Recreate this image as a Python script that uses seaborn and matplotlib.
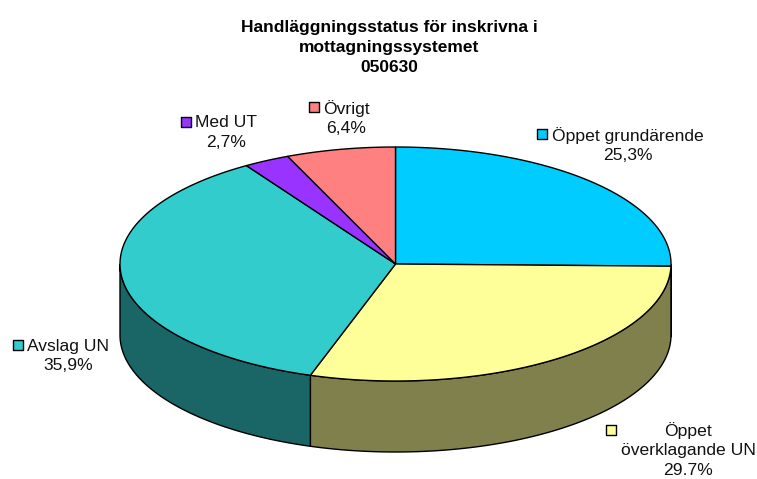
import numpy as np
import matplotlib.pyplot as plt
import seaborn as sns

labels = ["Öppet grundärende", "Öppet\növerklagande UN", "Avslag UN", "Med UT", "Övrigt"]
values = [25.3, 29.7, 35.9, 2.7, 6.4]
pct_text = ["25,3%", "29.7%", "35,9%", "2,7%", "6,4%"]
colors = ["#00CCFF", "#FFFF99", "#33CCCC", "#9933FF", "#FF8080"]
side_colors = ["#006680", "#80804D", "#1A6666", "#4D1A80", "#804040"]

sns.set_theme(style="white")
plt.rcParams['font.family'] = ['Liberation Sans', 'DejaVu Sans']

fig, ax = plt.subplots(figsize=(7.57, 4.79), dpi=100)
ax.set_position([0, 0, 1, 1])
ax.set_xlim(0, 757)
ax.set_ylim(479, 0)
ax.axis("off")

cx, cy, rx, ry, depth = 395.5, 264, 275.5, 117, 71

def rim(a0, a1):
    t = np.radians(np.linspace(a0, a1, 200))
    return cx + rx * np.sin(t), cy - ry * np.cos(t)

ends = np.cumsum(values) / sum(values) * 360
starts = np.concatenate([[0], ends[:-1]])

# side wall, only the front half of the ellipse shows
for a0, a1, c in zip(starts, ends, side_colors):
    a0, a1 = max(a0, 90), min(a1, 270)
    if a1 <= a0:
        continue
    x, y = rim(a0, a1)
    ax.fill(np.r_[x, x[::-1]], np.r_[y, y[::-1] + depth], color=c, ec="black", lw=1.0)

for a0, a1, c in zip(starts, ends, colors):
    x, y = rim(a0, a1)
    ax.fill(np.r_[cx, x], np.r_[cy, y], color=c, ec="black", lw=1.0)

ax.text(389.5, 47.5, "Handläggningsstatus för inskrivna i\nmottagningssystemet\n050630", ha="center",
        va="center", fontsize=12.5, fontweight="bold", color="black", linespacing=1.4)

label_pos = [(628, 145), (688, 450), (68, 356), (226, 132.5), (346.5, 118)]
key_pos = [(542, 134), (611, 430), (17.5, 345), (185.5, 122), (313.5, 107)]
for (lx, ly), (kx, ky), name, pct, c in zip(label_pos, key_pos, labels, pct_text, colors):
    ax.text(lx, ly, name + "\n" + pct, ha="center", va="center", fontsize=12.6, color="#111111", linespacing=1.37)
    ax.scatter([kx], [ky], marker="s", s=55, color=c, edgecolor="black", linewidth=1.0, zorder=3)

fig.savefig("out.png", dpi=100)
